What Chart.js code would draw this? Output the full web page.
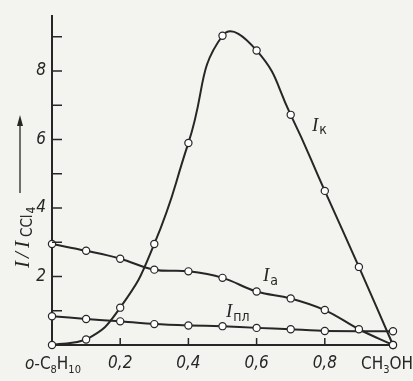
<!DOCTYPE html>
<html>
<head>
<meta charset="utf-8">
<script src="https://cdn.jsdelivr.net/npm/chart.js@4.4.1/dist/chart.umd.min.js"></script>
<style>
  html, body { margin: 0; padding: 0; background: #f3f3ef; }
  #wrap { width: 413px; height: 381px; }
</style>
</head>
<body>
<div id="wrap"><canvas id="chart" width="413" height="381"></canvas></div>
<script>
// mole fraction of methanol
const xValues = [0, 0.1, 0.2, 0.3, 0.4, 0.5, 0.6, 0.7, 0.8, 0.9, 1.0];
// relative intensities I / I(CCl4)
const ikValues = [0, 0.16, 1.09, 2.95, 5.9, 9.03, 8.6, 6.72, 4.5, 2.28, 0];
const iaValues = [2.95, 2.75, 2.52, 2.2, 2.15, 1.96, 1.56, 1.36, 1.02, 0.46, 0];
const iplValues = [0.84, 0.76, 0.69, 0.61, 0.57, 0.55, 0.5, 0.46, 0.41, null, 0.4];

const xTickValues = [0.2, 0.4, 0.6, 0.8];
const xTickLabels = ['0,2', '0,4', '0,6', '0,8'];
const yTickValues = [2, 4, 6, 8];
const yTickLabels = ['2', '4', '6', '8'];
const yMinorTicks = [1, 2, 3, 4, 5, 6, 7, 8, 9];

const ink = '#262626';
const paper = '#f3f3ef';
const tickFont = '"Liberation Sans Narrow", "DejaVu Sans Condensed", sans-serif';
const serif = '"Liberation Serif", "DejaVu Serif", serif';

function toPoints(values) {
    return xValues.map((x, i) => ({ x: x, y: values[i] })).filter(p => p.y !== null);
}

function lineSet(values, tension) {
    return {
        data: toPoints(values),
        borderColor: ink,
        borderWidth: 2,
        tension: tension,
        pointRadius: 3.6,
        pointBorderWidth: 1.2,
        pointBackgroundColor: '#ffffff',
        pointBorderColor: ink,
        clip: false
    };
}

// draws text with a subscript part
function subText(ctx, x, y, main, sub, mainFont, subFont, drop) {
    ctx.font = mainFont;
    ctx.fillText(main, x, y);
    const w = ctx.measureText(main).width;
    ctx.font = subFont;
    ctx.fillText(sub, x + w + 1, y + drop);
}

const decorations = {
    id: 'decorations',
    beforeDraw(chart) {
        const ctx = chart.ctx;
        ctx.save();
        ctx.fillStyle = paper;
        ctx.fillRect(0, 0, chart.width, chart.height);
        ctx.restore();
    },
    afterDraw(chart) {
        const ctx = chart.ctx;
        const xs = chart.scales.x;
        const ys = chart.scales.y;
        const area = chart.chartArea;
        ctx.save();
        ctx.strokeStyle = ink;
        ctx.fillStyle = ink;
        ctx.lineWidth = 1.5;

        // inward tick marks
        yMinorTicks.forEach(v => {
            const py = ys.getPixelForValue(v);
            ctx.beginPath();
            ctx.moveTo(area.left, py);
            ctx.lineTo(area.left + 10, py);
            ctx.stroke();
        });
        xTickValues.forEach(v => {
            const px = xs.getPixelForValue(v);
            ctx.beginPath();
            ctx.moveTo(px, area.bottom);
            ctx.lineTo(px, area.bottom - 7);
            ctx.stroke();
        });

        // end labels of the x axis
        ctx.textBaseline = 'alphabetic';
        ctx.textAlign = 'left';
        const by = area.bottom + 24;
        let x0 = xs.getPixelForValue(0) - 27;
        ctx.font = 'italic 17px ' + tickFont;
        ctx.fillText('o-', x0, by);
        x0 += ctx.measureText('o-').width;
        ctx.font = '17px ' + tickFont;
        ctx.fillText('C', x0, by);
        x0 += ctx.measureText('C').width;
        ctx.font = '11px ' + tickFont;
        ctx.fillText('8', x0, by + 4);
        x0 += ctx.measureText('8').width;
        ctx.font = '17px ' + tickFont;
        ctx.fillText('H', x0, by);
        x0 += ctx.measureText('H').width;
        ctx.font = '11px ' + tickFont;
        ctx.fillText('10', x0, by + 4);

        let x1 = xs.getPixelForValue(1) - 32;
        ctx.font = '17px ' + tickFont;
        ctx.fillText('CH', x1, by);
        x1 += ctx.measureText('CH').width;
        ctx.font = '11px ' + tickFont;
        ctx.fillText('3', x1, by + 4);
        x1 += ctx.measureText('3').width;
        ctx.font = '17px ' + tickFont;
        ctx.fillText('OH', x1, by);

        // curve labels
        const iFont = 'italic 19px ' + serif;
        const sFont = '14px ' + tickFont;
        subText(ctx, 312, 131, 'I', 'к', iFont, sFont, 3);
        subText(ctx, 263, 281, 'I', 'а', iFont, sFont, 4);
        subText(ctx, 226, 317, 'I', 'пл', iFont, sFont, 4);

        // y axis title, rotated
        ctx.save();
        ctx.translate(29, 268);
        ctx.rotate(-Math.PI / 2);
        ctx.font = 'italic 21px ' + serif;
        ctx.fillText('I', 0, 0);
        ctx.fillText('/', 10, 0);
        ctx.fillText('I', 20, 0);
        ctx.font = '15px ' + tickFont;
        ctx.fillText('CCl', 31, 3);
        const cw = ctx.measureText('CCl').width;
        ctx.font = '12px ' + tickFont;
        ctx.fillText('4', 31 + cw + 1, 6);
        ctx.restore();

        // arrow
        ctx.lineWidth = 1.3;
        ctx.beginPath();
        ctx.moveTo(20, 193);
        ctx.lineTo(20, 121);
        ctx.stroke();
        ctx.beginPath();
        ctx.moveTo(20, 115);
        ctx.lineTo(17, 126);
        ctx.lineTo(23, 126);
        ctx.closePath();
        ctx.fill();

        ctx.restore();
    }
};

const chart = new Chart(document.getElementById('chart'), {
    type: 'line',
    data: {
        datasets: [
            lineSet(ikValues, 0.5),
            lineSet(iaValues, 0.4),
            lineSet(iplValues, 0.2)
        ]
    },
    options: {
        responsive: false,
        animation: false,
        devicePixelRatio: 1,
        layout: { padding: { top: 13, right: 20, left: 0, bottom: 0 } },
        plugins: { legend: { display: false }, tooltip: { enabled: false } },
        scales: {
            x: {
                type: 'linear',
                min: 0,
                max: 1,
                afterFit: s => { s.height = 36; },
                afterBuildTicks: s => { s.ticks = xTickValues.map(v => ({ value: v })); },
                grid: { display: false, drawTicks: false },
                border: { color: ink, width: 2 },
                ticks: {
                    padding: 8,
                    color: ink,
                    font: { family: tickFont, size: 17, style: 'italic' },
                    maxRotation: 0,
                    autoSkip: false,
                    callback: v => {
                        const i = xTickValues.findIndex(t => Math.abs(t - v) < 1e-6);
                        return i >= 0 ? xTickLabels[i] : '';
                    }
                }
            },
            y: {
                min: 0,
                max: 9.6,
                afterFit: s => { s.width = 52; },
                afterBuildTicks: s => { s.ticks = yTickValues.map(v => ({ value: v })); },
                grid: { display: false, drawTicks: false },
                border: { color: ink, width: 2 },
                ticks: {
                    padding: 6,
                    color: ink,
                    font: { family: tickFont, size: 17, style: 'italic' },
                    callback: v => {
                        const i = yTickValues.indexOf(v);
                        return i >= 0 ? yTickLabels[i] : '';
                    }
                }
            }
        }
    },
    plugins: [decorations]
});
</script>
</body>
</html>
